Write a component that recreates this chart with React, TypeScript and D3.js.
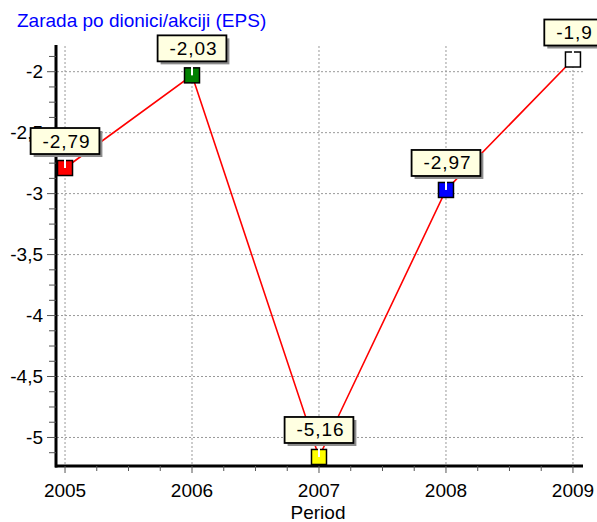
import React from "react";
import * as d3 from "d3";

const years = [2005, 2006, 2007, 2008, 2009];
const values = [-2.79, -2.03, -5.16, -2.97, -1.9];
const markerColors = ["#ff0000", "#008000", "#ffff00", "#0000ff", "#ffffff"];
const yMajorTicks = [-2, -2.5, -3, -3.5, -4, -4.5, -5];
const title = "Zarada po dionici/akciji (EPS)";
const xTitle = "Period";

const W = 597;
const H = 522;
const FONT = "'Liberation Sans', Arial, sans-serif";
const FS = 19;

const locale = d3.formatLocale({
  decimal: ",",
  thousands: ".",
  grouping: [3],
  currency: ["", ""],
  minus: "-",
});
const fmt = locale.format("");

export default function App() {
  const x = d3.scaleLinear().domain([2004.929, 2009.079]).range([56, 583]);
  const y = d3.scaleLinear().domain([-5.234, -1.781]).range([466, 45]);

  const yMinor = d3.range(-5.125, -1.78, 0.125).filter(
    (v) => !yMajorTicks.some((m) => Math.abs(m - v) < 1e-6)
  );
  const xMinor = d3.range(2005, 2009.01, 0.25).filter(
    (v) => Math.abs(v - Math.round(v)) > 1e-6
  );

  const line = d3
    .line<number>()
    .x((_, i) => x(years[i]))
    .y((d) => y(d));

  const LS = 0.9;
  const measure = (s: string) => {
    const w: Record<string, number> = { "-": 0.333, ",": 0.278 };
    let t = 0;
    for (const c of s) t += (w[c] ?? 0.556) * FS + LS;
    return t;
  };

  const gridColor = "#999";

  return (
    <svg
      width={W}
      height={H}
      style={{ position: "absolute", left: 0, top: 0, background: "#fff" }}
      fontFamily={FONT}
    >
      <text x={17} y={26.5} fontSize={19} fill="#0000ff">
        {title}
      </text>

      {/* grid */}
      {yMajorTicks.map((v) => (
        <line
          key={"gy" + v}
          x1={57}
          x2={583}
          y1={y(v)}
          y2={y(v)}
          stroke={gridColor}
          strokeWidth={1}
          strokeDasharray="2,2"
        />
      ))}
      {years.map((v) => (
        <line
          key={"gx" + v}
          x1={x(v)}
          x2={x(v)}
          y1={46}
          y2={465}
          stroke={gridColor}
          strokeWidth={1}
          strokeDasharray="2,2"
        />
      ))}

      {/* y axis */}
      <line x1={56} x2={56} y1={45} y2={467.5} stroke="#000" strokeWidth={3} />
      {yMajorTicks.map((v) => (
        <g key={"yt" + v}>
          <line x1={47} x2={56} y1={y(v)} y2={y(v)} stroke="#555" strokeWidth={1} />
          <text
            x={43}
            y={y(v)}
            dy="0.35em"
            textAnchor="end"
            fontSize={FS}
            fill="#000"
          >
            {fmt(v)}
          </text>
        </g>
      ))}
      {yMinor.map((v) => (
        <line key={"ym" + v} x1={49} x2={56} y1={y(v)} y2={y(v)} stroke="#555" strokeWidth={1} />
      ))}

      {/* x axis */}
      <line x1={55} x2={583} y1={466} y2={466} stroke="#000" strokeWidth={3} />
      {years.map((v) => (
        <g key={"xt" + v}>
          <line x1={x(v)} x2={x(v)} y1={466} y2={473} stroke="#555" strokeWidth={1} />
          <text x={x(v)} y={497} textAnchor="middle" fontSize={FS} fill="#000">
            {v}
          </text>
        </g>
      ))}
      {xMinor.map((v) => (
        <line key={"xm" + v} x1={x(v)} x2={x(v)} y1={466} y2={471} stroke="#555" strokeWidth={1} />
      ))}
      <text x={318} y={518.5} textAnchor="middle" fontSize={FS} fill="#000">
        {xTitle}
      </text>

      {/* data line */}
      <path d={line(values) ?? ""} fill="none" stroke="#ff0000" strokeWidth={1.6} />

      {/* markers */}
      {values.map((v, i) => {
        const cx = x(years[i]);
        const cy = y(v);
        return (
          <g key={"m" + i}>
            <rect
              x={cx - 7.5}
              y={cy - 7.5}
              width={15}
              height={15}
              fill={markerColors[i]}
              stroke="#000"
              strokeWidth={1.5}
            />
            <line x1={cx} x2={cx} y1={cy - 14} y2={cy} stroke="#fff" strokeWidth={2} />
          </g>
        );
      })}

      {/* labels */}
      {values.map((v, i) => {
        const cx = x(years[i]);
        const cy = y(v);
        const s = fmt(v);
        const tw = measure(s);
        const bw = tw + 21;
        const bh = 26;
        const bx = cx - bw / 2;
        const by = cy - 14 - bh;
        return (
          <g key={"l" + i}>
            <rect x={bx + 3} y={by + 3} width={bw} height={bh} fill="#8c8c8c" />
            <rect
              x={bx}
              y={by}
              width={bw}
              height={bh}
              fill="#ffffe1"
              stroke="#000"
              strokeWidth={1.8}
            />
            <text
              x={bx + 12}
              y={by + 19.5}
              fontSize={FS}
              letterSpacing={LS}
              fill="#000"
            >
              {s}
            </text>
          </g>
        );
      })}
    </svg>
  );
}
